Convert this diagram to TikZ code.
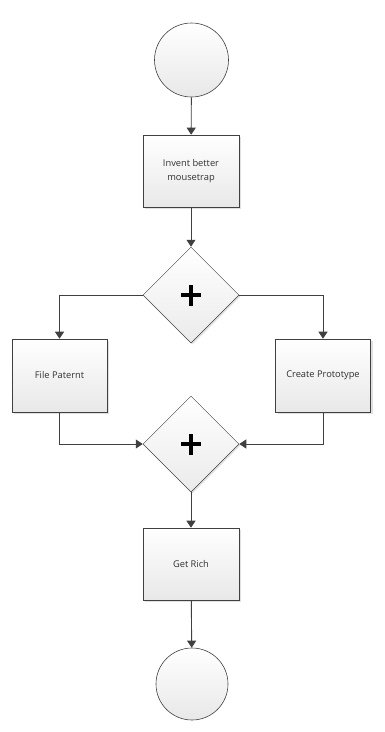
\documentclass[tikz,border=0pt]{standalone}
\usepackage{fontspec}
\setmainfont{Open Sans}
\usepackage{xcolor}
\usepackage{tikz}
\usetikzlibrary{arrows.meta, shapes.geometric, shadows}

\definecolor{edgegray}{HTML}{404040}
\definecolor{textgray}{HTML}{303030}

\begin{document}
\begin{tikzpicture}[x=1pt, y=-1pt,
    every node/.style={font=\fontsize{9.3}{14}\selectfont, text=textgray},
    task/.style={draw=edgegray, line width=0.6pt, top color=white,
      bottom color=black!9, minimum width=96pt, minimum height=72pt,
      align=center, drop shadow={shadow xshift=2pt, shadow yshift=-2pt,
      fill=black!12, opacity=1}},
    event/.style={circle, draw=edgegray, line width=0.6pt, top color=white,
      bottom color=black!9, minimum size=74pt, inner sep=0pt},
    gate/.style={diamond, aspect=1, draw=edgegray, line width=0.5pt,
      top color=white, bottom color=black!8, minimum size=96pt,
      inner sep=0pt, drop shadow={shadow xshift=1.5pt, shadow yshift=-1.5pt,
      fill=black!12, opacity=1},
      path picture={
        \draw[black, line width=3.2pt]
          ([xshift=-10pt]path picture bounding box.center) --
          ([xshift=10pt]path picture bounding box.center)
          ([yshift=-10.5pt]path picture bounding box.center) --
          ([yshift=10.5pt]path picture bounding box.center);}},
    flow/.style={draw=edgegray, line width=0.9pt,
      -{Triangle[length=7pt, width=9pt]}}]
  \useasboundingbox (0,0) rectangle (385,732);
  % start and first task
  \node[event] (start) at (191.5,60) {};
  \node[task] (invent) at (191,171) {Invent better\\mousetrap};
  \node[gate] (split) at (191,295) {};
  % parallel branches
  \node[task, minimum width=95pt, minimum height=73pt] (patent) at (59.5,375.5) {File Paternt};
  \node[task, minimum width=95pt, minimum height=73pt] (proto) at (323,375.5) {Create Prototype};
  \node[gate] (join) at (191,444) {};
  % end
  \node[task] (rich) at (191,564) {Get Rich};
  \node[event, minimum size=72pt] (stop) at (192,684) {};
  % connectors
  \draw[flow] (start) -- (invent);
  \draw[flow] (invent) -- (split);
  \draw[flow] (split.west) -| (patent.north);
  \draw[flow] (split.east) -| (proto.north);
  \draw[flow] (patent.south) |- (join.west);
  \draw[flow] (proto.south) |- (join.east);
  \draw[flow] (join) -- (rich);
  \draw[flow] (rich) -- (stop);
\end{tikzpicture}
\end{document}
